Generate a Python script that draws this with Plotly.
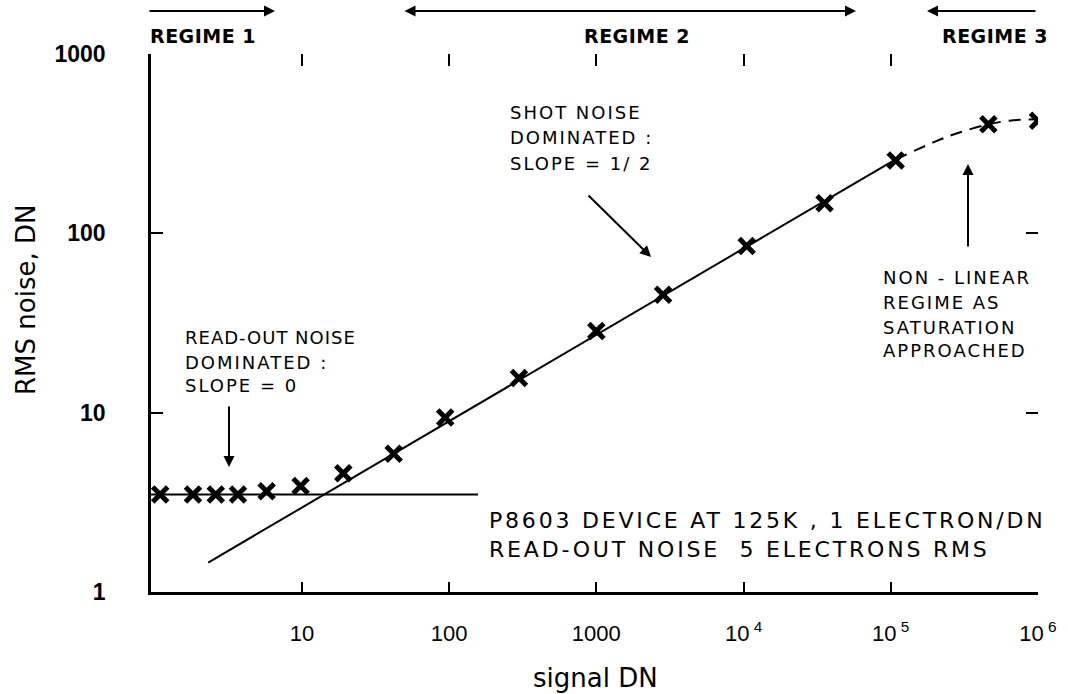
import plotly.graph_objects as go

# ---- data ----
signal_dn = [1.09, 1.82, 2.6, 3.68, 5.76, 9.8, 19.1, 42, 94, 298, 1000, 2840,
             1.05e4, 3.55e4, 1.08e5, 4.6e5, 1.0e6]
rms_noise = [3.5, 3.5, 3.5, 3.5, 3.65, 3.9, 4.6, 5.9, 9.4, 15.6, 28.5, 45.5,
             85, 147, 255, 406, 424]

readout_x = [0.94, 157]
readout_y = [3.5, 3.5]

shot_x = [2.31, 1.03e5]
shot_y = [1.46, 253]

sat_x = [1.08e5, 2.04e5, 2.93e5, 4.6e5, 6.4e5, 1.0e6]
sat_y = [258, 327, 365, 405, 425, 432]

x_tickvals = [10, 100, 1000, 1e4, 1e5, 1e6]
x_ticktext = ["10", "100", "1000", "10<sup> 4</sup>", "10<sup> 5</sup>", "10<sup> 6</sup>"]
y_tickvals = [1, 10, 100, 1000]
y_ticktext = ["1", "10", "100", "1000"]
right_tickvals = [10, 100]

# ---- layout geometry ----
W, H = 1068, 694
ML, MR, MT, MB = 151, 30, 54, 102
PW, PH = W - ML - MR, H - MT - MB
XR = [-0.025, 6.0]
YR = [0.0, 3.0]


def P(px, py):
    return (px - ML) / PW, (H - MB - py) / PH


fig = go.Figure()

fig.add_trace(go.Scatter(x=readout_x, y=readout_y, mode="lines",
                         line=dict(color="black", width=2), showlegend=False))
fig.add_trace(go.Scatter(x=shot_x, y=shot_y, mode="lines",
                         line=dict(color="black", width=2), showlegend=False))
fig.add_trace(go.Scatter(x=sat_x, y=sat_y, mode="lines",
                         line=dict(color="black", width=2, dash="12px,8px", shape="spline"),
                         showlegend=False))
fig.add_trace(go.Scatter(x=signal_dn, y=rms_noise, mode="markers",
                         marker=dict(symbol="x-thin-open", size=15, color="black",
                                     line=dict(color="black", width=5)),
                         showlegend=False))
# helper trace for the top / right tick-only axes
fig.add_trace(go.Scatter(x=[1e6], y=[1000], mode="lines", xaxis="x2", yaxis="y2",
                         showlegend=False, hoverinfo="skip"))

TXT = "DejaVu Sans"


def sp(t, ls=2):
    return f'<span style="letter-spacing:{ls}px">{t}</span>'


annotations = []


def text(px, py, t, size=18, anchor="left", ls=2, bold=False, family=TXT):
    x, y = P(px, py)
    s = sp(t, ls)
    if bold:
        s = "<b>" + s + "</b>"
    annotations.append(dict(x=x, y=y, xref="paper", yref="paper", text=s,
                            showarrow=False, xanchor=anchor, yanchor="middle",
                            align=anchor, font=dict(family=family, size=size, color="black")))


def arrow(hx, hy, tx, ty, both=False):
    x, y = P(hx, hy)
    annotations.append(dict(x=x, y=y, xref="paper", yref="paper", text="",
                            showarrow=True, ax=tx - hx, ay=ty - hy,
                            arrowhead=2, arrowsize=1.1, arrowwidth=2, arrowcolor="black",
                            arrowside="end+start" if both else "end",
                            standoff=0, startstandoff=0))


# regimes
text(148, 36, "REGIME 1", size=19, ls=0.5, bold=True)
text(637, 36, "REGIME 2", size=19, ls=0.5, bold=True, anchor="center")
text(1050, 36, "REGIME 3", size=19, ls=0.5, bold=True, anchor="right")
arrow(275, 11, 148, 11)
arrow(856, 11, 403, 11, both=True)
arrow(927, 11, 1037, 11)

# read-out noise note
text(183, 338, "READ-OUT NOISE", ls=1)
text(183, 362, "DOMINATED :")
text(183, 385, "SLOPE = 0")
arrow(229, 467, 229, 405)

# shot noise note
text(508, 113, "SHOT NOISE")
text(508, 138, "DOMINATED :")
text(508, 163, "SLOPE = 1/ 2")
arrow(651, 257, 587, 194)

# non-linear note
text(881, 277, "NON - LINEAR")
text(881, 302, "REGIME AS")
text(881, 327, "SATURATION")
text(881, 351, "APPROACHED")
arrow(968, 164, 968, 248)

# device note
text(487, 520, "P8603 DEVICE AT 125K , 1 ELECTRON/DN", size=22, ls=2.8)
text(487, 549, "READ-OUT NOISE  5 ELECTRONS RMS", size=22, ls=2.8)

# axis titles
tx, ty = P(595, 678)
annotations.append(dict(x=tx, y=ty, xref="paper", yref="paper", text="signal DN",
                        showarrow=False, xanchor="center", yanchor="middle",
                        font=dict(family=TXT, size=26, color="black")))
tx, ty = P(26, 300)
annotations.append(dict(x=tx, y=ty, xref="paper", yref="paper", text="RMS noise, DN",
                        showarrow=False, xanchor="center", yanchor="middle", textangle=-90,
                        font=dict(family=TXT, size=26, color="black")))

fig.update_layout(
    width=W, height=H,
    margin=dict(l=ML, r=MR, t=MT, b=MB, pad=0),
    paper_bgcolor="white", plot_bgcolor="white",
    showlegend=False,
    annotations=annotations,
    xaxis=dict(type="log", range=XR, tickvals=x_tickvals, ticktext=x_ticktext,
               ticks="inside", ticklen=10, tickwidth=2, tickcolor="black",
               showline=True, linewidth=2.5, linecolor="black",
               showgrid=False, zeroline=False,
               ticklabelstandoff=20,
               tickfont=dict(family="Liberation Sans", size=22, color="black")),
    yaxis=dict(type="log", range=YR, tickvals=y_tickvals, ticktext=y_ticktext,
               ticks="inside", ticklen=12, tickwidth=2, tickcolor="black",
               showline=True, linewidth=2.5, linecolor="black",
               showgrid=False, zeroline=False,
               ticklabelstandoff=38,
               tickfont=dict(family="Liberation Sans", size=23, color="black", weight="bold")),
    xaxis2=dict(type="log", range=XR, overlaying="x", side="top", anchor="y",
                tickvals=x_tickvals, showticklabels=False,
                ticks="inside", ticklen=12, tickwidth=2, tickcolor="black",
                showline=False, showgrid=False, zeroline=False),
    yaxis2=dict(type="log", range=YR, overlaying="y", side="right", anchor="x",
                tickvals=right_tickvals, showticklabels=False,
                ticks="inside", ticklen=12, tickwidth=2, tickcolor="black",
                showline=False, showgrid=False, zeroline=False),
)

fig.write_html("out.html")
